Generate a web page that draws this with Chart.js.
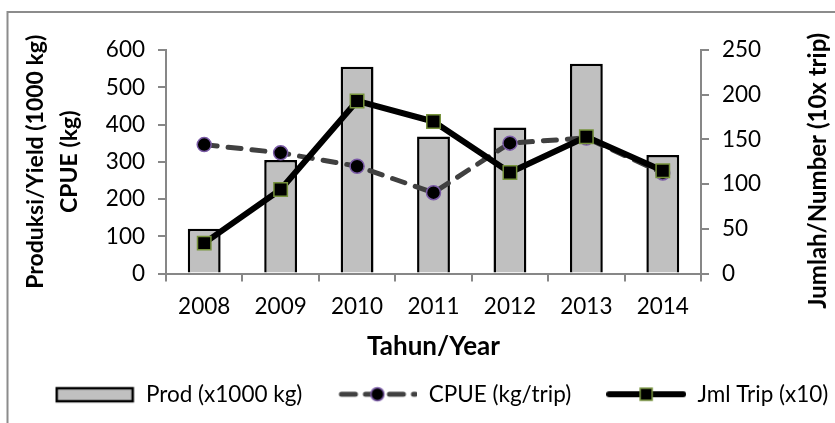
<!DOCTYPE html>
<html><head><meta charset="utf-8">
<script src="https://cdn.jsdelivr.net/npm/chart.js@4.4.1/dist/chart.umd.min.js"></script>
<style>
html,body{margin:0;padding:0;overflow:hidden;background:#fff;width:835px;height:423px}
#wrap{position:absolute;left:0;top:0;width:883px;height:423px}
</style></head>
<body><div id="wrap"><canvas id="c" width="883" height="423"></canvas></div>
<script>
// ---- data ----
const years = ['2008', '2009', '2010', '2011', '2012', '2013', '2014'];
const prod = [120, 305, 555, 368, 392, 563, 318];      // Prod (x1000 kg), left axis
const cpue = [346, 324, 288, 217, 350, 364, 270];      // CPUE (kg/trip), left axis
const trips = [34, 94, 193, 170, 113, 153, 115];       // Jml Trip (x10), right axis
const leftAxisTicks = [0, 100, 200, 300, 400, 500, 600];
const rightAxisTicks = [0, 50, 100, 150, 200, 250];
const seriesNames = ['Prod (x1000 kg)', 'CPUE (kg/trip)', 'Jml Trip (x10)'];
const xTitle = 'Tahun/Year';
const leftTitle = ['Produksi/Yield (1000 kg)', 'CPUE (kg)'];
const rightTitle = 'Jumlah/Number (10x trip)';

// ---- styles ----
const FONT = 'Lato';
const AXIS_GRAY = '#878787';
const BAR_FILL = '#c0c0c0';
const CPUE_LINE = '#404040';
const CPUE_RING = '#7a5aa6';
const TRIP_RING = '#77933c';
const TICK_SIZE = 22.5;

function icon(kind) {
  const cv = document.createElement('canvas');
  cv.width = 80; cv.height = 22;
  const g = cv.getContext('2d');
  const cy = 11;
  if (kind === 'bar') {
    g.fillStyle = BAR_FILL; g.strokeStyle = '#000'; g.lineWidth = 2.5;
    g.fillRect(2, cy - 6, 76, 13); g.strokeRect(2, cy - 6, 76, 13);
  } else if (kind === 'cpue') {
    g.strokeStyle = CPUE_LINE; g.lineWidth = 5; g.lineCap = 'round';
    g.setLineDash([14, 10]);
    g.beginPath(); g.moveTo(4, cy); g.lineTo(78, cy); g.stroke();
    g.setLineDash([]);
    g.beginPath(); g.arc(40, cy, 6.5, 0, Math.PI * 2);
    g.fillStyle = '#000'; g.fill(); g.lineWidth = 1.5; g.strokeStyle = CPUE_RING; g.stroke();
  } else {
    g.strokeStyle = '#000'; g.lineWidth = 6; g.lineCap = 'round';
    g.beginPath(); g.moveTo(3, cy); g.lineTo(77, cy); g.stroke();
    g.fillStyle = '#000'; g.fillRect(34, cy - 6, 12, 12);
    g.lineWidth = 1.5; g.strokeStyle = TRIP_RING; g.strokeRect(34, cy - 6, 12, 12);
  }
  return cv;
}
const legendIcons = [icon('bar'), icon('cpue'), icon('trip')];

const framePlugin = {
  id: 'frame',
  beforeDraw(chart) {
    const ctx = chart.ctx;
    ctx.save();
    ctx.fillStyle = '#fff';
    ctx.fillRect(0, 0, chart.width, chart.height);
    ctx.strokeStyle = '#8c8c8c'; ctx.lineWidth = 2;
    ctx.beginPath();
    ctx.moveTo(chart.width + 5, 12); ctx.lineTo(7.5, 12); ctx.lineTo(7.5, chart.height + 5);
    ctx.stroke();
    ctx.restore();
  }
};
const rightTitlePlugin = {
  id: 'rightTitle',
  afterDraw(chart) {
    const ctx = chart.ctx;
    const ca = chart.chartArea;
    ctx.save();
    ctx.font = 'bold 24px ' + FONT;
    ctx.fillStyle = '#000';
    ctx.textAlign = 'center'; ctx.textBaseline = 'middle';
    ctx.translate(818, (ca.top + ca.bottom) / 2 + 9);
    ctx.rotate(-Math.PI / 2);
    ctx.fillText(rightTitle, 0, 0);
    ctx.restore();
  }
};

const tickFont = { family: FONT, size: TICK_SIZE };

new Chart(document.getElementById('c'), {
  type: 'bar',
  data: {
    labels: years,
    datasets: [
      { label: seriesNames[0], data: prod, yAxisID: 'y', order: 3,
        backgroundColor: BAR_FILL, borderColor: '#000', borderWidth: 2.5,
        barPercentage: 0.43, categoryPercentage: 1 },
      { type: 'line', label: seriesNames[1], data: cpue, yAxisID: 'y', order: 2,
        borderColor: CPUE_LINE, borderWidth: 5, borderDash: [13, 11], borderCapStyle: 'round',
        pointStyle: 'circle', pointRadius: 7, pointBorderWidth: 1.5,
        pointBackgroundColor: '#000', pointBorderColor: CPUE_RING, tension: 0, fill: false },
      { type: 'line', label: seriesNames[2], data: trips, yAxisID: 'y1', order: 1,
        borderColor: '#000', borderWidth: 6, borderJoinStyle: 'round',
        pointStyle: 'rect', pointRadius: 9.5, pointBorderWidth: 1.5,
        pointBackgroundColor: '#000', pointBorderColor: TRIP_RING, tension: 0, fill: false }
    ]
  },
  options: {
    responsive: false,
    animation: false,
    devicePixelRatio: 1,
    layout: { padding: { top: 50, bottom: 7.5, left: 0, right: 0 } },
    plugins: {
      tooltip: { enabled: false },
      legend: {
        position: 'bottom',
        labels: {
          usePointStyle: true, pointStyleWidth: 80, padding: 35,
          color: '#000', font: tickFont,
          generateLabels(chart) {
            const items = Chart.defaults.plugins.legend.labels.generateLabels(chart);
            items.sort((a, b) => a.datasetIndex - b.datasetIndex);
            items.forEach((it) => { it.pointStyle = legendIcons[it.datasetIndex]; });
            return items;
          }
        }
      }
    },
    scales: {
      x: {
        offset: true,
        grid: { display: true, drawOnChartArea: false, drawTicks: true, tickLength: 8, color: AXIS_GRAY, lineWidth: 2, offset: true },
        border: { display: true, color: AXIS_GRAY, width: 2 },
        ticks: { color: '#000', font: tickFont, padding: 12, maxRotation: 0 },
        title: { display: true, text: xTitle, color: '#000', font: { family: FONT, size: 26, weight: 'bold', lineHeight: 1 }, padding: { top: 0, bottom: -11.5 } },
        afterFit(s) { s.height = 74.5; }
      },
      y: {
        position: 'left',
        min: leftAxisTicks[0], max: leftAxisTicks[leftAxisTicks.length - 1],
        ticks: { stepSize: leftAxisTicks[1] - leftAxisTicks[0], color: '#000', font: tickFont, padding: 13 },
        grid: { display: true, drawOnChartArea: false, drawTicks: true, tickLength: 8, color: AXIS_GRAY, lineWidth: 2 },
        border: { display: true, color: AXIS_GRAY, width: 2 },
        title: { display: true, text: leftTitle, color: '#000', font: { family: FONT, size: 23, weight: 'bold', lineHeight: 34 / 23 }, padding: { top: 19, bottom: 0 } },
        afterFit(s) { s.width = 166; }
      },
      y1: {
        position: 'right',
        min: rightAxisTicks[0], max: rightAxisTicks[rightAxisTicks.length - 1],
        ticks: { stepSize: rightAxisTicks[1] - rightAxisTicks[0], color: '#000', font: tickFont, padding: 13 },
        grid: { display: true, drawOnChartArea: false, drawTicks: true, tickLength: 8, color: AXIS_GRAY, lineWidth: 2 },
        border: { display: true, color: AXIS_GRAY, width: 2 },
        afterFit(s) { s.width = 883 - 701; }
      }
    }
  },
  plugins: [framePlugin, rightTitlePlugin]
});
</script>
</body></html>
